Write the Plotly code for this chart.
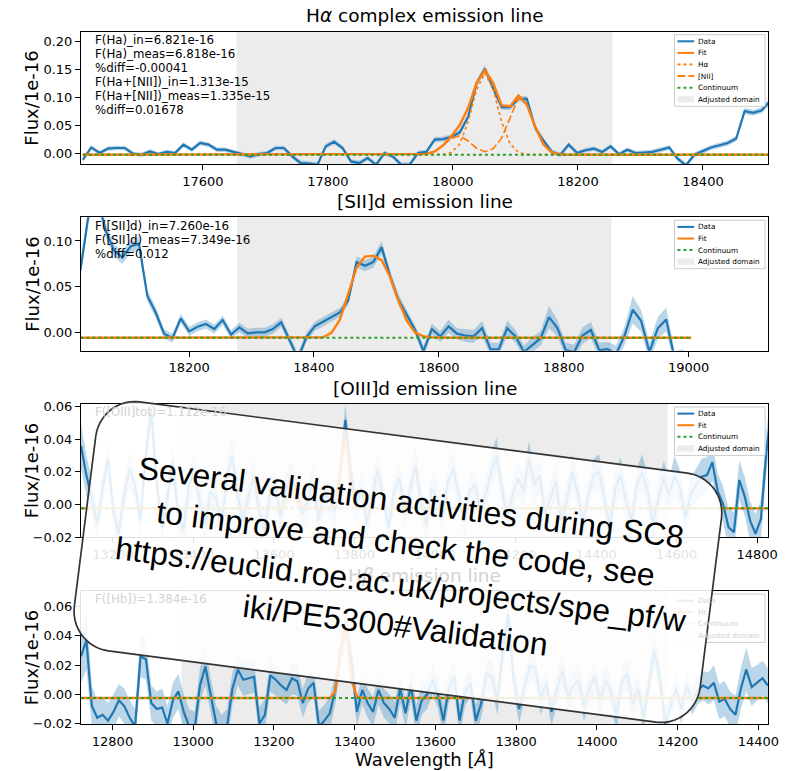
import numpy as np
import plotly.graph_objects as go

# ---------------------------------------------------------------------------
# Page geometry (pixels) and helpers to convert pixel positions to paper space
# ---------------------------------------------------------------------------
FIG_W, FIG_H = 790, 771
PL, PR, PT, PB = 81, 779, 31, 724


def fx(x):
    return (x - PL) / (PR - PL)


def fy(y):
    return (PB - y) / (PB - PT)


BLUE, ORANGE, GREEN = "#1f77b4", "#ff7f0e", "#2ca02c"
DOMAIN_GREY = "#ececec"
BAND = "rgba(31,119,180,0.3)"
FADED = "#d2d2d2"          # text lying under the note box
PIX = 13.4                 # Angstrom per spectral pixel

# ---------------------------------------------------------------------------
# H-alpha complex
# ---------------------------------------------------------------------------
ha_lam0 = 17408.0
ha_flux = [
    -0.012, 0.010, 0.000, 0.008, 0.009, 0.009, -0.001, -0.003, 0.003, -0.002,
    0.002, 0.000, 0.015, 0.006, 0.018, 0.015, 0.006, 0.006, 0.002, -0.002,
    -0.006, -0.002, 0.000, 0.009, 0.009, -0.006, -0.018, -0.019, -0.021, 0.012,
    0.020, 0.009, -0.015, -0.018, -0.009, -0.021, 0.000, -0.006, -0.021, -0.021,
    0.000, 0.002, 0.024, 0.025, 0.029, 0.037, 0.065, 0.125, 0.151, 0.115,
    0.082, 0.082, 0.097, 0.097, 0.045, 0.022, 0.002, -0.003, 0.015, 0.000,
    0.005, 0.008, 0.002, 0.012, -0.002, 0.006, 0.000, 0.001, 0.002, 0.006,
    0.010, -0.010, -0.022, -0.003, 0.003, 0.010, 0.014, 0.018, 0.026, 0.075,
    0.072, 0.076, 0.092,
]
ha_err = [
    0.004, 0.004, 0.0035, 0.004, 0.004, 0.004, 0.0035, 0.004, 0.004, 0.0035,
    0.004, 0.0035, 0.004, 0.004, 0.0045, 0.004, 0.004, 0.004, 0.0035, 0.004,
    0.004, 0.004, 0.0035, 0.004, 0.004, 0.004, 0.0045, 0.0045, 0.0045, 0.004,
    0.0045, 0.004, 0.004, 0.0045, 0.004, 0.0045, 0.004, 0.004, 0.0045, 0.0045,
    0.004, 0.004, 0.0045, 0.0045, 0.0045, 0.005, 0.005, 0.0055, 0.006, 0.0055,
    0.005, 0.005, 0.005, 0.005, 0.005, 0.0045, 0.0045, 0.004, 0.0045, 0.004,
    0.004, 0.004, 0.004, 0.004, 0.004, 0.004, 0.004, 0.004, 0.0045, 0.0045,
    0.0045, 0.0045, 0.0045, 0.0045, 0.0045, 0.0045, 0.0045, 0.005, 0.005, 0.0055,
    0.0055, 0.0055, 0.006,
]
ha_cont = -0.003
# model values on pixels 38..59 (flat continuum elsewhere)
ha_fit_core = [
    -0.003, -0.003, -0.0028, -0.0017, 0.0029, 0.0139, 0.0305, 0.0501, 0.0811, 0.1253,
    0.1484, 0.1246, 0.0850, 0.0834, 0.1031, 0.0867, 0.0468, 0.0147, 0.0010, -0.0024,
    -0.003, -0.003,
]
ha_line_core = [
    -0.003, -0.003, -0.003, -0.003, -0.003, -0.0025, 0.0010, 0.0164, 0.0565, 0.1136,
    0.1430, 0.1136, 0.0550, 0.0164, 0.0010, -0.0025, -0.003, -0.003, -0.003, -0.003,
    -0.003, -0.003,
]
nii_line_core = [
    -0.003, -0.003, -0.0028, -0.0017, 0.0029, 0.0134, 0.0265, 0.0307, 0.0216, 0.0087,
    0.0024, 0.0080, 0.0270, 0.0640, 0.0991, 0.0862, 0.0468, 0.0147, 0.0010, -0.0024,
    -0.003, -0.003,
]
ha_core_start = 38
ha_text = ["F(Ha)_in=6.821e-16", "F(Ha)_meas=6.818e-16", "%diff=-0.00041",
           "F(Ha+[NII])_in=1.313e-15", "F(Ha+[NII])_meas=1.335e-15", "%diff=0.01678"]

# ---------------------------------------------------------------------------
# [SII] doublet
# ---------------------------------------------------------------------------
sii_lam0 = 18026.0
sii_flux = [
    0.068, 0.130, 0.150, 0.112, 0.090, 0.082, 0.094, 0.097, 0.040, 0.022,
    -0.001, -0.006, 0.0156, 0.0015, 0.0065, 0.0095, 0.004, 0.0138, -0.002, 0.0058,
    -0.0007, 0.0004, 0.0004, 0.004, 0.0113, -0.007, -0.028, -0.005, 0.007, 0.012,
    0.017, 0.022, 0.035, 0.077, 0.073, 0.077, 0.093, 0.062, 0.036, 0.020,
    0.003, -0.020, 0.004, -0.004, 0.007, -0.001, -0.003, -0.004, 0.005, -0.018,
    -0.018, 0.005, -0.004, -0.021, -0.013, -0.006, 0.017, 0.005, -0.019, -0.021,
    -0.003, 0.003, -0.019, -0.018, -0.023, -0.004, 0.025, 0.013, -0.021, 0.005,
    0.0145, -0.028, -0.022, -0.030,
]
sii_err = [
    0.008, 0.009, 0.009, 0.008, 0.007, 0.007, 0.007, 0.007, 0.006, 0.006,
    0.005, 0.005, 0.005, 0.005, 0.005, 0.005, 0.005, 0.005, 0.005, 0.005,
    0.005, 0.005, 0.005, 0.005, 0.005, 0.005, 0.006, 0.005, 0.005, 0.005,
    0.005, 0.005, 0.005, 0.006, 0.006, 0.006, 0.007, 0.006, 0.006, 0.005,
    0.005, 0.006, 0.006, 0.006, 0.007, 0.006, 0.007, 0.007, 0.008, 0.007,
    0.007, 0.008, 0.007, 0.007, 0.008, 0.008, 0.012, 0.009, 0.008, 0.008,
    0.009, 0.009, 0.008, 0.008, 0.009, 0.010, 0.015, 0.012, 0.010, 0.012,
    0.013, 0.008, 0.004, 0.004,
]
sii_cont = -0.0055
sii_fit_core = [-0.005, 0.000, 0.014, 0.042, 0.071, 0.083, 0.084, 0.079, 0.061,
                0.035, 0.013, 0.000, -0.004, -0.005]
sii_core_start = 29
sii_text = ["F([SII]d)_in=7.260e-16", "F([SII]d)_meas=7.349e-16", "%diff=0.012"]

# ---------------------------------------------------------------------------
# [OIII] doublet
# ---------------------------------------------------------------------------
oiii_lam0 = 13121.0
oiii_flux = [
    0.036, 0.018, 0.004, -0.012, 0.010, 0.028, -0.004, -0.018, 0.006, 0.022,
    0.012, -0.010, 0.030, 0.058, 0.014, -0.014, 0.004, 0.026, -0.006, -0.016,
    0.012, 0.020, 0.002, -0.012, 0.008, 0.004, -0.014, 0.016, 0.030, 0.006,
    -0.010, 0.004, 0.018, -0.004, -0.016, 0.006, 0.012, -0.008, 0.010, 0.016,
    0.008, -0.006, 0.002, 0.014, -0.010, 0.006, 0.004, -0.004, 0.018, 0.052,
    0.020, -0.002, 0.010, -0.012, 0.006, 0.022, 0.004, -0.014, 0.008, 0.016,
    -0.006, 0.010, 0.024, 0.002, -0.012, 0.010, 0.004, -0.008, 0.014, 0.022,
    0.006, -0.010, 0.008, 0.012, -0.004, 0.006, 0.020, 0.030, 0.010, -0.008,
    0.006, 0.016, 0.008, 0.028, 0.012, 0.018, -0.006, 0.004, 0.014, -0.010,
    0.002, 0.020, 0.008, -0.012, 0.006, 0.018, 0.020, 0.004, -0.014, 0.010,
    0.018, 0.002, -0.010, 0.012, 0.020, 0.008, -0.012, 0.004, 0.016, 0.006,
    0.018, 0.010, -0.008, 0.006, 0.012, 0.017, 0.018, 0.026, 0.008, 0.000,
    -0.014, -0.017, 0.015, 0.005, -0.010, -0.018, -0.009, 0.032, 0.060,
]
oiii_err = [
    0.014, 0.012, 0.011, 0.010, 0.010, 0.011, 0.010, 0.010, 0.010, 0.011,
    0.010, 0.010, 0.011, 0.012, 0.010, 0.010, 0.010, 0.011, 0.010, 0.010,
    0.010, 0.011, 0.010, 0.010, 0.010, 0.010, 0.010, 0.011, 0.011, 0.010,
    0.010, 0.010, 0.011, 0.010, 0.010, 0.010, 0.010, 0.010, 0.010, 0.011,
    0.010, 0.010, 0.010, 0.010, 0.010, 0.010, 0.010, 0.010, 0.010, 0.010,
    0.010, 0.010, 0.010, 0.010, 0.010, 0.011, 0.010, 0.010, 0.010, 0.010,
    0.010, 0.010, 0.011, 0.010, 0.010, 0.010, 0.010, 0.010, 0.010, 0.011,
    0.010, 0.010, 0.010, 0.010, 0.010, 0.010, 0.011, 0.011, 0.010, 0.010,
    0.010, 0.010, 0.010, 0.011, 0.010, 0.010, 0.010, 0.010, 0.010, 0.010,
    0.010, 0.011, 0.010, 0.010, 0.010, 0.010, 0.011, 0.010, 0.010, 0.010,
    0.011, 0.010, 0.010, 0.010, 0.011, 0.010, 0.010, 0.010, 0.011, 0.010,
    0.012, 0.011, 0.010, 0.010, 0.010, 0.011, 0.011, 0.011, 0.011, 0.011,
    0.012, 0.012, 0.012, 0.012, 0.012, 0.012, 0.012, 0.013, 0.013,
]
oiii_cont = -0.0024
oiii_fit_core = [0.000, 0.011, 0.002, -0.0015, -0.0024, -0.0024, -0.0024, -0.0024,
                 -0.0024, -0.001, 0.022, 0.042, 0.012, -0.001]
oiii_core_start = 38
oiii_text = ["F([OIII]tot)=1.112e-16"]

# ---------------------------------------------------------------------------
# H-beta
# ---------------------------------------------------------------------------
hb_lam0 = 12722.0
hb_flux = [
    0.026, 0.037, -0.008, -0.016, -0.014, -0.018, -0.012, -0.004, -0.008, -0.016,
    -0.022, 0.026, 0.024, -0.006, -0.010, -0.009, -0.020, -0.004, 0.002, -0.012,
    -0.022, -0.024, 0.006, 0.019, -0.001, -0.020, -0.026, -0.022, 0.004, 0.017,
    0.010, 0.011, 0.012, -0.020, -0.014, 0.013, 0.010, 0.006, 0.003, 0.011,
    0.009, -0.006, 0.004, 0.008, -0.022, -0.018, -0.013, 0.003, 0.030, 0.046,
    0.024, -0.012, 0.003, -0.006, -0.012, 0.003, -0.006, -0.010, -0.016, 0.004,
    -0.013, 0.006, -0.018, -0.004, 0.000, 0.010, 0.000, -0.018, 0.004, 0.012,
    -0.018, 0.002, 0.008, -0.018, -0.006, 0.014, 0.012, -0.004, 0.030, 0.055,
    0.010, -0.010, 0.006, 0.020, 0.018, -0.004, 0.008, -0.012, 0.004, 0.016,
    -0.002, 0.006, 0.010, -0.008, 0.004, 0.012, -0.004, 0.010, 0.002, -0.014,
    0.008, 0.014, -0.006, 0.004, -0.016, 0.008, 0.030, 0.012, -0.020, -0.008,
    0.004, -0.010, 0.006, -0.004, 0.003, 0.006, 0.004, 0.008, -0.005, -0.003,
    -0.010, -0.014, 0.004, 0.017, 0.005, 0.008, 0.011, 0.006,
]
hb_err = [
    0.018, 0.020, 0.014, 0.012, 0.012, 0.012, 0.012, 0.011, 0.012, 0.012,
    0.012, 0.014, 0.014, 0.012, 0.012, 0.013, 0.012, 0.012, 0.012, 0.012,
    0.012, 0.012, 0.012, 0.013, 0.012, 0.012, 0.012, 0.012, 0.011, 0.011,
    0.011, 0.011, 0.011, 0.011, 0.011, 0.011, 0.011, 0.010, 0.010, 0.011,
    0.010, 0.010, 0.010, 0.010, 0.011, 0.011, 0.011, 0.010, 0.011, 0.011,
    0.011, 0.010, 0.010, 0.010, 0.010, 0.010, 0.010, 0.010, 0.011, 0.010,
    0.010, 0.010, 0.011, 0.010, 0.010, 0.010, 0.010, 0.011, 0.010, 0.010,
    0.011, 0.010, 0.010, 0.011, 0.010, 0.010, 0.010, 0.010, 0.011, 0.012,
    0.010, 0.010, 0.010, 0.011, 0.011, 0.010, 0.010, 0.010, 0.010, 0.011,
    0.010, 0.010, 0.010, 0.010, 0.010, 0.011, 0.010, 0.010, 0.010, 0.011,
    0.010, 0.011, 0.010, 0.010, 0.011, 0.010, 0.012, 0.011, 0.011, 0.010,
    0.010, 0.010, 0.010, 0.010, 0.010, 0.010, 0.011, 0.012, 0.012, 0.012,
    0.012, 0.013, 0.014, 0.015, 0.013, 0.012, 0.012, 0.012,
]
hb_cont = -0.0025
hb_fit_core = [0.002, 0.030, 0.048, 0.010, -0.0015]
hb_core_start = 47
hb_text = ["F([Hb])=1.384e-16"]


def model(cont, n, start, core):
    return [cont] * start + list(core) + [cont] * (n - start - len(core))


# ---------------------------------------------------------------------------
# Panel descriptions
# ---------------------------------------------------------------------------
panels = [
    dict(title="H<i>α</i> complex emission line", top=31.7, bot=164.0,
         xr=[17405, 18504], yr=[-0.0196, 0.217], dom=[17654, 18255],
         xt=[17600, 17800, 18000, 18200, 18400], yt=[0, 0.05, 0.10, 0.15, 0.20],
         lam0=ha_lam0, flux=ha_flux, err=ha_err, cont=ha_cont,
         fit=model(ha_cont, len(ha_flux), ha_core_start, ha_fit_core),
         comps=[(model(ha_cont, len(ha_flux), ha_core_start, ha_line_core), "dot"),
                (model(ha_cont, len(ha_flux), ha_core_start, nii_line_core), "8px,3px")],
         text=ha_text, faded=False,
         legend=[("Data", "line", BLUE, "solid"), ("Fit", "line", ORANGE, "solid"),
                 ("Hα", "line", ORANGE, "dot"), ("[NII]", "line", ORANGE, "8px,3px"),
                 ("Continuum", "line", GREEN, "dot"), ("Adjusted domain", "patch", DOMAIN_GREY, None)]),
    dict(title="[SII]d emission line", top=217.3, bot=350.7,
         xr=[18027, 19127], yr=[-0.0196, 0.1258], dom=[18277, 18876],
         xt=[18200, 18400, 18600, 18800, 19000], yt=[0, 0.05, 0.10],
         lam0=sii_lam0, flux=sii_flux, err=sii_err, cont=sii_cont,
         fit=model(sii_cont, len(sii_flux), sii_core_start, sii_fit_core), comps=[],
         text=sii_text, faded=False,
         legend=[("Data", "line", BLUE, "solid"), ("Fit", "line", ORANGE, "solid"),
                 ("Continuum", "line", GREEN, "dot"), ("Adjusted domain", "patch", DOMAIN_GREY, None)]),
    dict(title="[OIII]d emission line", top=404.0, bot=537.0,
         xr=[13121, 14827], yr=[-0.020, 0.0617], dom=[13370, 14578],
         xt=list(range(13200, 14801, 200)), yt=[-0.02, 0, 0.02, 0.04, 0.06],
         lam0=oiii_lam0, flux=oiii_flux, err=oiii_err, cont=oiii_cont,
         fit=model(oiii_cont, len(oiii_flux), oiii_core_start, oiii_fit_core), comps=[],
         text=oiii_text, faded=True,
         legend=[("Data", "line", BLUE, "solid"), ("Fit", "line", ORANGE, "solid"),
                 ("Continuum", "line", GREEN, "dot"), ("Adjusted domain", "patch", DOMAIN_GREY, None)]),
    dict(title="H<i>β</i> emission line", top=591.0, bot=724.0,
         xr=[12722, 14424], yr=[-0.0203, 0.0707], dom=[12971, 14175],
         xt=list(range(12800, 14401, 200)), yt=[-0.02, 0, 0.02, 0.04, 0.06],
         lam0=hb_lam0, flux=hb_flux, err=hb_err, cont=hb_cont,
         fit=model(hb_cont, len(hb_flux), hb_core_start, hb_fit_core), comps=[],
         text=hb_text, faded=True,
         legend=[("Data", "line", BLUE, "solid"), ("Fit", "line", ORANGE, "solid"),
                 ("Continuum", "line", GREEN, "dot"), ("Adjusted domain", "patch", DOMAIN_GREY, None)]),
]

fig = go.Figure()
shapes, annotations = [], []
axis_style = dict(showline=True, linecolor="black", linewidth=1, mirror=True,
                  ticks="outside", ticklen=5, tickwidth=1, tickcolor="black",
                  showgrid=False, zeroline=False,
                  tickfont=dict(size=13, color="black", family="DejaVu Sans"))

TEXT_SIZE = 11.8     # flux summary lines
TEXT_PITCH = 13.9    # vertical distance between summary lines (px)

for n, p in enumerate(panels, start=1):
    xa, ya = ("x", "y") if n == 1 else (f"x{n}", f"y{n}")
    flux = np.array(p["flux"])
    err = np.array(p["err"])
    wave = p["lam0"] + PIX * np.arange(len(flux))

    # adjusted fitting domain
    d0, d1 = p["dom"]
    fig.add_trace(go.Scatter(x=[d0, d1, d1, d0, d0], y=[-1, -1, 1, 1, -1], mode="lines",
                             fill="toself", fillcolor=DOMAIN_GREY, line=dict(width=0),
                             hoverinfo="skip", showlegend=False, xaxis=xa, yaxis=ya))
    # 1-sigma band
    fig.add_trace(go.Scatter(x=np.concatenate([wave, wave[::-1]]),
                             y=np.concatenate([flux + err, (flux - err)[::-1]]),
                             mode="lines", fill="toself", fillcolor=BAND, line=dict(width=0),
                             hoverinfo="skip", showlegend=False, xaxis=xa, yaxis=ya))
    # data
    fig.add_trace(go.Scatter(x=wave, y=flux, mode="lines", line=dict(color=BLUE, width=2.2),
                             showlegend=False, xaxis=xa, yaxis=ya))
    # total fit
    fig.add_trace(go.Scatter(x=wave, y=p["fit"], mode="lines", line=dict(color=ORANGE, width=2.4),
                             showlegend=False, xaxis=xa, yaxis=ya))
    # individual components
    for comp, dash in p["comps"]:
        fig.add_trace(go.Scatter(x=wave, y=comp, mode="lines",
                                 line=dict(color=ORANGE, width=1.7, dash=dash),
                                 showlegend=False, xaxis=xa, yaxis=ya))
    # continuum
    fig.add_trace(go.Scatter(x=[wave[0], wave[-1]], y=[p["cont"], p["cont"]], mode="lines",
                             line=dict(color=GREEN, width=2, dash="dot"),
                             showlegend=False, xaxis=xa, yaxis=ya))

    dom_y = [fy(p["bot"]), fy(p["top"])]
    fig.update_layout(**{
        ("xaxis" if n == 1 else f"xaxis{n}"): dict(
            axis_style, domain=[0, 1], anchor=ya, range=p["xr"], tickvals=p["xt"],
            ticktext=[str(v) for v in p["xt"]]),
        ("yaxis" if n == 1 else f"yaxis{n}"): dict(
            axis_style, domain=dom_y, anchor=xa, range=p["yr"], tickvals=p["yt"],
            tickformat=".2f"),
    })

    txt_col = FADED if p["faded"] else "black"
    # title
    annotations.append(dict(text=p["title"], x=fx(430), y=fy(p["top"] - 16), xref="paper",
                            yref="paper", xanchor="center", yanchor="middle", showarrow=False,
                            font=dict(size=18.5, color=FADED if n == 4 else "black")))
    # y label
    annotations.append(dict(text="Flux/1e-16", x=fx(31), y=fy((p["top"] + p["bot"]) / 2),
                            xref="paper", yref="paper", xanchor="center", yanchor="middle",
                            textangle=-90, showarrow=False, font=dict(size=18, color="black")))
    # flux summary text
    for k, line in enumerate(p["text"]):
        annotations.append(dict(text=line, x=fx(94), y=fy(p["top"] + 8.4 + TEXT_PITCH * k),
                                xref="paper", yref="paper", xanchor="left", yanchor="middle",
                                showarrow=False, borderpad=0,
                                font=dict(size=TEXT_SIZE, color=txt_col)))

    # legend box
    ltop = p["top"] + 3.0
    pitch = 11.6
    lbot = ltop + pitch * len(p["legend"]) + 2
    shapes.append(dict(type="rect", xref="paper", yref="paper", x0=fx(684), x1=fx(776),
                       y0=fy(lbot), y1=fy(ltop), fillcolor="rgba(255,255,255,0.85)",
                       line=dict(color="#cccccc", width=1), layer="above"))
    for k, (label, kind, color, dash) in enumerate(p["legend"]):
        yc = ltop + 6.6 + k * pitch
        if kind == "line":
            shapes.append(dict(type="line", xref="paper", yref="paper", x0=fx(687), x1=fx(704),
                               y0=fy(yc), y1=fy(yc), layer="above",
                               line=dict(color=color, width=2, dash=dash)))
        else:
            shapes.append(dict(type="rect", xref="paper", yref="paper", x0=fx(687), x1=fx(704),
                               y0=fy(yc + 3.2), y1=fy(yc - 3.2), layer="above",
                               fillcolor=color, line=dict(width=0)))
        annotations.append(dict(text=label, x=fx(707), y=fy(yc), xref="paper", yref="paper",
                                xanchor="left", yanchor="middle", showarrow=False, borderpad=0,
                                font=dict(size=7.3, color=FADED if n == 4 else "black")))

annotations.append(dict(text="Wavelength [<i>Å</i>]", x=fx(430), y=fy(759), xref="paper",
                        yref="paper", xanchor="center", yanchor="middle", showarrow=False,
                        font=dict(size=18, color="black")))


# ---------------------------------------------------------------------------
# Rotated note box on top of the lower panels
# ---------------------------------------------------------------------------
def rounded_box_path(cx, cy, w, h, r, ang_deg, nseg=14):
    a = np.deg2rad(ang_deg)
    hw, hh = w / 2, h / 2
    corners = [(hw - r, -hh + r, -90, 0), (hw - r, hh - r, 0, 90),
               (-hw + r, hh - r, 90, 180), (-hw + r, -hh + r, 180, 270)]
    pts = []
    for ccx, ccy, t0, t1 in corners:
        for t in np.linspace(np.deg2rad(t0), np.deg2rad(t1), nseg):
            pts.append((ccx + r * np.cos(t), ccy + r * np.sin(t)))
    segs = []
    for i, (x, y) in enumerate(pts):
        X = cx + x * np.cos(a) - y * np.sin(a)
        Y = cy + x * np.sin(a) + y * np.cos(a)
        segs.append(f"{'M' if i == 0 else 'L'}{fx(X):.5f},{fy(Y):.5f}")
    return " ".join(segs) + " Z"


NOTE_ANGLE = 7.3
shapes.append(dict(type="path", xref="paper", yref="paper", layer="above",
                   path=rounded_box_path(403, 562, 641, 251, 40, NOTE_ANGLE),
                   fillcolor="rgba(255,255,255,0.88)", line=dict(color="#333333", width=1.7)))
note_lines = ["Several validation activities during SC8",
              "to improve and check the code, see",
              "https://euclid.roe.ac.uk/projects/spe_pf/w",
              "iki/PE5300#Validation"]
annotations.append(dict(text="<br>".join(note_lines), x=fx(409), y=fy(564), xref="paper",
                        yref="paper", xanchor="center", yanchor="middle", showarrow=False,
                        textangle=NOTE_ANGLE, align="center",
                        font=dict(size=31.8, color="black",
                                  family="Liberation Sans, Arial, sans-serif")))

fig.update_layout(
    width=FIG_W, height=FIG_H,
    margin=dict(l=PL, r=FIG_W - PR, t=PT, b=FIG_H - PB, pad=0),
    paper_bgcolor="white", plot_bgcolor="white",
    showlegend=False,
    font=dict(family="DejaVu Sans", color="black"),
    shapes=shapes, annotations=annotations,
)

fig.write_html("out.html")
